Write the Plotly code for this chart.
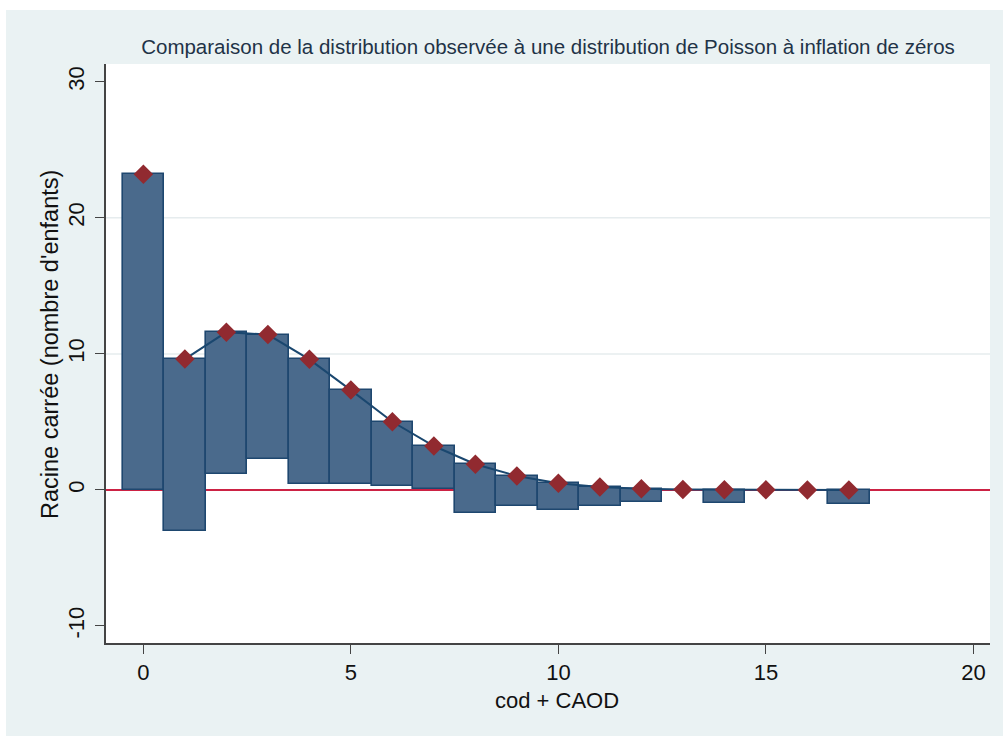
import numpy as np
import plotly.graph_objects as go

# Counts of cod + CAOD (0..17)
counts = list(range(18))
# Observed number of children for each count
observed = [538, 160, 108, 84, 84, 48, 22, 10, 13, 5, 4, 2, 1, 0, 1, 0, 0, 1]
# Square root of the expected frequencies under the zero-inflated Poisson fit
sqrt_expected = [23.2, 9.62, 11.6, 11.42, 9.6, 7.34, 5.01, 3.23, 1.89, 1.03,
                 0.49, 0.22, 0.08, 0.04, 0.02, 0.01, 0.0, 0.0]

x_ticks = [0, 5, 10, 15, 20]
y_ticks = [-10, 0, 10, 20, 30]

title_text = "Comparaison de la distribution observée à une distribution de Poisson à inflation de zéros"
x_title = "cod + CAOD"
y_title = "Racine carrée (nombre d'enfants)"

# Bars hang from the expected value, their height being sqrt(observed);
# counts with no observations get no bar at all
sqrt_obs = [np.sqrt(o) if o > 0 else None for o in observed]
bar_base = [e - s if s is not None else None for e, s in zip(sqrt_expected, sqrt_obs)]

FONT = "Liberation Sans, Arial, sans-serif"
BG = "#eaf2f3"
BAR_FILL = "#4a6a8c"
BAR_LINE = "#1e476f"
DIAMOND = "#912a30"
CURVE = "#1a476f"

fig = go.Figure()

fig.add_trace(go.Bar(
    x=counts, y=sqrt_obs, base=bar_base, width=1.0,
    marker=dict(color=BAR_FILL, line=dict(color=BAR_LINE, width=1.6)),
    showlegend=False, hoverinfo="skip",
))

# Expected curve (from 1 onward)
fig.add_trace(go.Scatter(
    x=counts[1:], y=sqrt_expected[1:], mode="lines",
    line=dict(color=CURVE, width=2),
    showlegend=False, hoverinfo="skip",
))

# Expected values as diamonds
fig.add_trace(go.Scatter(
    x=counts, y=sqrt_expected, mode="markers",
    marker=dict(symbol="diamond", size=15, color=DIAMOND, line=dict(width=0)),
    showlegend=False, hoverinfo="skip",
))

L, R, T, B = 106, 13, 64, 93
W, H = 1003, 736
pw, ph = W - L - R, H - T - B

shapes = []
# Horizontal grid lines
for g in (10, 20):
    shapes.append(dict(type="line", xref="paper", yref="y", x0=0, x1=1, y0=g, y1=g,
                       line=dict(color="#e6ecee", width=1.5), layer="below"))
# Zero reference line
shapes.append(dict(type="line", xref="paper", yref="y", x0=0, x1=1, y0=0, y1=0,
                   line=dict(color="#cc2244", width=2), layer="below"))
# Thin white frame along the top and left edges of the page
shapes.append(dict(type="rect", xref="paper", yref="paper",
                   x0=-L / pw, x1=(W - L) / pw, y0=(H - B) / ph, y1=(H - B - 10) / ph,
                   fillcolor="white", line=dict(width=0), layer="above"))
shapes.append(dict(type="rect", xref="paper", yref="paper",
                   x0=-L / pw, x1=(6 - L) / pw, y0=-B / ph, y1=(H - B) / ph,
                   fillcolor="white", line=dict(width=0), layer="above"))

annotations = [
    dict(text=x_title, xref="paper", yref="paper", x=(557 - L) / pw, y=(H - B - 700) / ph,
         showarrow=False, font=dict(family=FONT, size=22, color="#111111"),
         xanchor="center", yanchor="middle"),
    dict(text=y_title, xref="paper", yref="paper", x=(50 - L) / pw, y=(H - B - 345) / ph,
         showarrow=False, textangle=-90, font=dict(family=FONT, size=23.5, color="#111111"),
         xanchor="center", yanchor="middle"),
]

fig.update_layout(
    width=W, height=H,
    margin=dict(l=L, r=R, t=T, b=B),
    paper_bgcolor=BG, plot_bgcolor="white",
    title=dict(text=title_text, x=0.5, xref="paper", xanchor="center",
               y=1 - 47 / H, yref="container", yanchor="middle",
               font=dict(family=FONT, size=20.5, color="#1f3347")),
    shapes=shapes, annotations=annotations,
    bargap=0,
    xaxis=dict(range=[-0.9, 20.4], tickvals=x_ticks, ticktext=[str(v) for v in x_ticks],
               showgrid=False, zeroline=False, showline=True, linecolor="#444444", linewidth=1.5,
               ticks="outside", ticklen=9, tickwidth=1.3, tickcolor="#444444",
               tickfont=dict(family=FONT, size=22, color="#111111")),
    yaxis=dict(range=[-11.25, 31.31], tickvals=y_ticks, ticktext=[str(v) for v in y_ticks],
               showgrid=False, zeroline=False, showline=True, linecolor="#444444", linewidth=1.5,
               ticks="outside", ticklen=9, tickwidth=1.3, tickcolor="#444444", tickangle=-90,
               ticklabelstandoff=2,
               tickfont=dict(family=FONT, size=22, color="#111111")),
)

fig.write_html("out.html")
